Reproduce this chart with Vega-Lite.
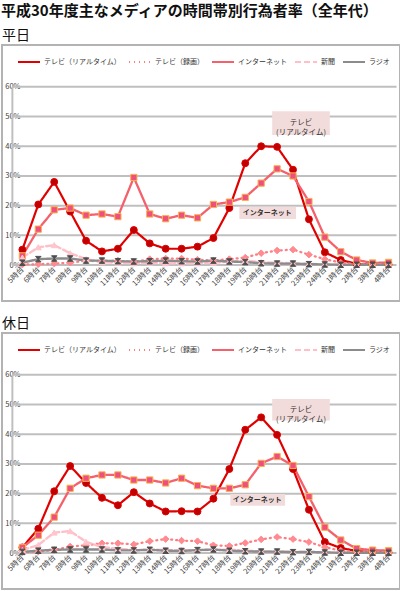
{
  "$schema": "https://vega.github.io/schema/vega-lite/v6.json",
  "description": "平成30年度 主なメディアの時間帯別行為者率（平日・休日）",
  "background": "white",
  "padding": {"left": 1, "top": 4, "right": 0, "bottom": 0},
  "title": {
    "text": "平成30年度主なメディアの時間帯別行為者率（全年代）",
    "anchor": "start",
    "fontSize": 15,
    "fontWeight": "bold",
    "color": "#111111",
    "offset": 9
  },
  "datasets": {
    "rates": [
      {"panel": "平日", "media": "テレビ（リアルタイム）", "slot": "5時台", "rate": 5.2},
      {"panel": "平日", "media": "テレビ（リアルタイム）", "slot": "6時台", "rate": 20.4},
      {"panel": "平日", "media": "テレビ（リアルタイム）", "slot": "7時台", "rate": 28.0},
      {"panel": "平日", "media": "テレビ（リアルタイム）", "slot": "8時台", "rate": 18.0},
      {"panel": "平日", "media": "テレビ（リアルタイム）", "slot": "9時台", "rate": 8.2},
      {"panel": "平日", "media": "テレビ（リアルタイム）", "slot": "10時台", "rate": 4.6},
      {"panel": "平日", "media": "テレビ（リアルタイム）", "slot": "11時台", "rate": 5.5},
      {"panel": "平日", "media": "テレビ（リアルタイム）", "slot": "12時台", "rate": 11.8},
      {"panel": "平日", "media": "テレビ（リアルタイム）", "slot": "13時台", "rate": 7.3},
      {"panel": "平日", "media": "テレビ（リアルタイム）", "slot": "14時台", "rate": 5.5},
      {"panel": "平日", "media": "テレビ（リアルタイム）", "slot": "15時台", "rate": 5.5},
      {"panel": "平日", "media": "テレビ（リアルタイム）", "slot": "16時台", "rate": 6.2},
      {"panel": "平日", "media": "テレビ（リアルタイム）", "slot": "17時台", "rate": 9.1},
      {"panel": "平日", "media": "テレビ（リアルタイム）", "slot": "18時台", "rate": 19.2},
      {"panel": "平日", "media": "テレビ（リアルタイム）", "slot": "19時台", "rate": 34.3},
      {"panel": "平日", "media": "テレビ（リアルタイム）", "slot": "20時台", "rate": 40.0},
      {"panel": "平日", "media": "テレビ（リアルタイム）", "slot": "21時台", "rate": 39.8},
      {"panel": "平日", "media": "テレビ（リアルタイム）", "slot": "22時台", "rate": 32.1},
      {"panel": "平日", "media": "テレビ（リアルタイム）", "slot": "23時台", "rate": 15.4},
      {"panel": "平日", "media": "テレビ（リアルタイム）", "slot": "24時台", "rate": 4.3},
      {"panel": "平日", "media": "テレビ（リアルタイム）", "slot": "1時台", "rate": 1.7},
      {"panel": "平日", "media": "テレビ（リアルタイム）", "slot": "2時台", "rate": 0.4},
      {"panel": "平日", "media": "テレビ（リアルタイム）", "slot": "3時台", "rate": 0.2},
      {"panel": "平日", "media": "テレビ（リアルタイム）", "slot": "4時台", "rate": 0.2},
      {"panel": "平日", "media": "テレビ（録画）", "slot": "5時台", "rate": 0.2},
      {"panel": "平日", "media": "テレビ（録画）", "slot": "6時台", "rate": 0.3},
      {"panel": "平日", "media": "テレビ（録画）", "slot": "7時台", "rate": 0.5},
      {"panel": "平日", "media": "テレビ（録画）", "slot": "8時台", "rate": 0.8},
      {"panel": "平日", "media": "テレビ（録画）", "slot": "9時台", "rate": 1.5},
      {"panel": "平日", "media": "テレビ（録画）", "slot": "10時台", "rate": 1.2},
      {"panel": "平日", "media": "テレビ（録画）", "slot": "11時台", "rate": 1.5},
      {"panel": "平日", "media": "テレビ（録画）", "slot": "12時台", "rate": 1.0},
      {"panel": "平日", "media": "テレビ（録画）", "slot": "13時台", "rate": 2.0},
      {"panel": "平日", "media": "テレビ（録画）", "slot": "14時台", "rate": 2.2},
      {"panel": "平日", "media": "テレビ（録画）", "slot": "15時台", "rate": 2.2},
      {"panel": "平日", "media": "テレビ（録画）", "slot": "16時台", "rate": 1.8},
      {"panel": "平日", "media": "テレビ（録画）", "slot": "17時台", "rate": 1.5},
      {"panel": "平日", "media": "テレビ（録画）", "slot": "18時台", "rate": 2.0},
      {"panel": "平日", "media": "テレビ（録画）", "slot": "19時台", "rate": 2.5},
      {"panel": "平日", "media": "テレビ（録画）", "slot": "20時台", "rate": 4.0},
      {"panel": "平日", "media": "テレビ（録画）", "slot": "21時台", "rate": 4.9},
      {"panel": "平日", "media": "テレビ（録画）", "slot": "22時台", "rate": 5.2},
      {"panel": "平日", "media": "テレビ（録画）", "slot": "23時台", "rate": 3.5},
      {"panel": "平日", "media": "テレビ（録画）", "slot": "24時台", "rate": 2.0},
      {"panel": "平日", "media": "テレビ（録画）", "slot": "1時台", "rate": 0.8},
      {"panel": "平日", "media": "テレビ（録画）", "slot": "2時台", "rate": 0.3},
      {"panel": "平日", "media": "テレビ（録画）", "slot": "3時台", "rate": 0.2},
      {"panel": "平日", "media": "テレビ（録画）", "slot": "4時台", "rate": 0.2},
      {"panel": "平日", "media": "インターネット", "slot": "5時台", "rate": 3.1},
      {"panel": "平日", "media": "インターネット", "slot": "6時台", "rate": 12.1},
      {"panel": "平日", "media": "インターネット", "slot": "7時台", "rate": 18.6},
      {"panel": "平日", "media": "インターネット", "slot": "8時台", "rate": 19.2},
      {"panel": "平日", "media": "インターネット", "slot": "9時台", "rate": 16.8},
      {"panel": "平日", "media": "インターネット", "slot": "10時台", "rate": 17.2},
      {"panel": "平日", "media": "インターネット", "slot": "11時台", "rate": 16.3},
      {"panel": "平日", "media": "インターネット", "slot": "12時台", "rate": 29.5},
      {"panel": "平日", "media": "インターネット", "slot": "13時台", "rate": 17.2},
      {"panel": "平日", "media": "インターネット", "slot": "14時台", "rate": 15.6},
      {"panel": "平日", "media": "インターネット", "slot": "15時台", "rate": 16.8},
      {"panel": "平日", "media": "インターネット", "slot": "16時台", "rate": 15.9},
      {"panel": "平日", "media": "インターネット", "slot": "17時台", "rate": 20.4},
      {"panel": "平日", "media": "インターネット", "slot": "18時台", "rate": 21.2},
      {"panel": "平日", "media": "インターネット", "slot": "19時台", "rate": 22.8},
      {"panel": "平日", "media": "インターネット", "slot": "20時台", "rate": 27.6},
      {"panel": "平日", "media": "インターネット", "slot": "21時台", "rate": 32.4},
      {"panel": "平日", "media": "インターネット", "slot": "22時台", "rate": 30.0},
      {"panel": "平日", "media": "インターネット", "slot": "23時台", "rate": 21.4},
      {"panel": "平日", "media": "インターネット", "slot": "24時台", "rate": 9.4},
      {"panel": "平日", "media": "インターネット", "slot": "1時台", "rate": 4.5},
      {"panel": "平日", "media": "インターネット", "slot": "2時台", "rate": 1.7},
      {"panel": "平日", "media": "インターネット", "slot": "3時台", "rate": 0.7},
      {"panel": "平日", "media": "インターネット", "slot": "4時台", "rate": 0.9},
      {"panel": "平日", "media": "新聞", "slot": "5時台", "rate": 2.5},
      {"panel": "平日", "media": "新聞", "slot": "6時台", "rate": 6.0},
      {"panel": "平日", "media": "新聞", "slot": "7時台", "rate": 6.7},
      {"panel": "平日", "media": "新聞", "slot": "8時台", "rate": 4.0},
      {"panel": "平日", "media": "新聞", "slot": "9時台", "rate": 2.0},
      {"panel": "平日", "media": "新聞", "slot": "10時台", "rate": 1.0},
      {"panel": "平日", "media": "新聞", "slot": "11時台", "rate": 0.8},
      {"panel": "平日", "media": "新聞", "slot": "12時台", "rate": 0.6},
      {"panel": "平日", "media": "新聞", "slot": "13時台", "rate": 0.8},
      {"panel": "平日", "media": "新聞", "slot": "14時台", "rate": 0.6},
      {"panel": "平日", "media": "新聞", "slot": "15時台", "rate": 0.6},
      {"panel": "平日", "media": "新聞", "slot": "16時台", "rate": 0.6},
      {"panel": "平日", "media": "新聞", "slot": "17時台", "rate": 0.8},
      {"panel": "平日", "media": "新聞", "slot": "18時台", "rate": 1.2},
      {"panel": "平日", "media": "新聞", "slot": "19時台", "rate": 1.5},
      {"panel": "平日", "media": "新聞", "slot": "20時台", "rate": 1.0},
      {"panel": "平日", "media": "新聞", "slot": "21時台", "rate": 0.8},
      {"panel": "平日", "media": "新聞", "slot": "22時台", "rate": 0.6},
      {"panel": "平日", "media": "新聞", "slot": "23時台", "rate": 0.4},
      {"panel": "平日", "media": "新聞", "slot": "24時台", "rate": 0.2},
      {"panel": "平日", "media": "新聞", "slot": "1時台", "rate": 0.1},
      {"panel": "平日", "media": "新聞", "slot": "2時台", "rate": 0.1},
      {"panel": "平日", "media": "新聞", "slot": "3時台", "rate": 0.1},
      {"panel": "平日", "media": "新聞", "slot": "4時台", "rate": 0.2},
      {"panel": "平日", "media": "ラジオ", "slot": "5時台", "rate": 0.8},
      {"panel": "平日", "media": "ラジオ", "slot": "6時台", "rate": 2.0},
      {"panel": "平日", "media": "ラジオ", "slot": "7時台", "rate": 2.2},
      {"panel": "平日", "media": "ラジオ", "slot": "8時台", "rate": 2.2},
      {"panel": "平日", "media": "ラジオ", "slot": "9時台", "rate": 1.5},
      {"panel": "平日", "media": "ラジオ", "slot": "10時台", "rate": 1.5},
      {"panel": "平日", "media": "ラジオ", "slot": "11時台", "rate": 1.3},
      {"panel": "平日", "media": "ラジオ", "slot": "12時台", "rate": 1.2},
      {"panel": "平日", "media": "ラジオ", "slot": "13時台", "rate": 1.3},
      {"panel": "平日", "media": "ラジオ", "slot": "14時台", "rate": 1.5},
      {"panel": "平日", "media": "ラジオ", "slot": "15時台", "rate": 1.3},
      {"panel": "平日", "media": "ラジオ", "slot": "16時台", "rate": 1.2},
      {"panel": "平日", "media": "ラジオ", "slot": "17時台", "rate": 1.5},
      {"panel": "平日", "media": "ラジオ", "slot": "18時台", "rate": 1.2},
      {"panel": "平日", "media": "ラジオ", "slot": "19時台", "rate": 1.0},
      {"panel": "平日", "media": "ラジオ", "slot": "20時台", "rate": 0.6},
      {"panel": "平日", "media": "ラジオ", "slot": "21時台", "rate": 0.5},
      {"panel": "平日", "media": "ラジオ", "slot": "22時台", "rate": 0.5},
      {"panel": "平日", "media": "ラジオ", "slot": "23時台", "rate": 0.3},
      {"panel": "平日", "media": "ラジオ", "slot": "24時台", "rate": 0.2},
      {"panel": "平日", "media": "ラジオ", "slot": "1時台", "rate": 0.1},
      {"panel": "平日", "media": "ラジオ", "slot": "2時台", "rate": 0.1},
      {"panel": "平日", "media": "ラジオ", "slot": "3時台", "rate": 0.1},
      {"panel": "平日", "media": "ラジオ", "slot": "4時台", "rate": 0.1},
      {"panel": "休日", "media": "テレビ（リアルタイム）", "slot": "5時台", "rate": 1.9},
      {"panel": "休日", "media": "テレビ（リアルタイム）", "slot": "6時台", "rate": 8.2},
      {"panel": "休日", "media": "テレビ（リアルタイム）", "slot": "7時台", "rate": 20.8},
      {"panel": "休日", "media": "テレビ（リアルタイム）", "slot": "8時台", "rate": 29.3},
      {"panel": "休日", "media": "テレビ（リアルタイム）", "slot": "9時台", "rate": 23.6},
      {"panel": "休日", "media": "テレビ（リアルタイム）", "slot": "10時台", "rate": 18.6},
      {"panel": "休日", "media": "テレビ（リアルタイム）", "slot": "11時台", "rate": 16.1},
      {"panel": "休日", "media": "テレビ（リアルタイム）", "slot": "12時台", "rate": 20.5},
      {"panel": "休日", "media": "テレビ（リアルタイム）", "slot": "13時台", "rate": 16.7},
      {"panel": "休日", "media": "テレビ（リアルタイム）", "slot": "14時台", "rate": 14.0},
      {"panel": "休日", "media": "テレビ（リアルタイム）", "slot": "15時台", "rate": 14.1},
      {"panel": "休日", "media": "テレビ（リアルタイム）", "slot": "16時台", "rate": 14.0},
      {"panel": "休日", "media": "テレビ（リアルタイム）", "slot": "17時台", "rate": 18.3},
      {"panel": "休日", "media": "テレビ（リアルタイム）", "slot": "18時台", "rate": 28.3},
      {"panel": "休日", "media": "テレビ（リアルタイム）", "slot": "19時台", "rate": 41.5},
      {"panel": "休日", "media": "テレビ（リアルタイム）", "slot": "20時台", "rate": 45.7},
      {"panel": "休日", "media": "テレビ（リアルタイム）", "slot": "21時台", "rate": 39.8},
      {"panel": "休日", "media": "テレビ（リアルタイム）", "slot": "22時台", "rate": 28.3},
      {"panel": "休日", "media": "テレビ（リアルタイム）", "slot": "23時台", "rate": 14.6},
      {"panel": "休日", "media": "テレビ（リアルタイム）", "slot": "24時台", "rate": 3.7},
      {"panel": "休日", "media": "テレビ（リアルタイム）", "slot": "1時台", "rate": 1.7},
      {"panel": "休日", "media": "テレビ（リアルタイム）", "slot": "2時台", "rate": 0.7},
      {"panel": "休日", "media": "テレビ（リアルタイム）", "slot": "3時台", "rate": 0.3},
      {"panel": "休日", "media": "テレビ（リアルタイム）", "slot": "4時台", "rate": 0.2},
      {"panel": "休日", "media": "テレビ（録画）", "slot": "5時台", "rate": 0.3},
      {"panel": "休日", "media": "テレビ（録画）", "slot": "6時台", "rate": 0.5},
      {"panel": "休日", "media": "テレビ（録画）", "slot": "7時台", "rate": 1.0},
      {"panel": "休日", "media": "テレビ（録画）", "slot": "8時台", "rate": 2.2},
      {"panel": "休日", "media": "テレビ（録画）", "slot": "9時台", "rate": 2.6},
      {"panel": "休日", "media": "テレビ（録画）", "slot": "10時台", "rate": 3.3},
      {"panel": "休日", "media": "テレビ（録画）", "slot": "11時台", "rate": 3.3},
      {"panel": "休日", "media": "テレビ（録画）", "slot": "12時台", "rate": 2.9},
      {"panel": "休日", "media": "テレビ（録画）", "slot": "13時台", "rate": 4.0},
      {"panel": "休日", "media": "テレビ（録画）", "slot": "14時台", "rate": 4.7},
      {"panel": "休日", "media": "テレビ（録画）", "slot": "15時台", "rate": 4.2},
      {"panel": "休日", "media": "テレビ（録画）", "slot": "16時台", "rate": 4.0},
      {"panel": "休日", "media": "テレビ（録画）", "slot": "17時台", "rate": 2.6},
      {"panel": "休日", "media": "テレビ（録画）", "slot": "18時台", "rate": 2.4},
      {"panel": "休日", "media": "テレビ（録画）", "slot": "19時台", "rate": 3.4},
      {"panel": "休日", "media": "テレビ（録画）", "slot": "20時台", "rate": 4.6},
      {"panel": "休日", "media": "テレビ（録画）", "slot": "21時台", "rate": 5.4},
      {"panel": "休日", "media": "テレビ（録画）", "slot": "22時台", "rate": 4.7},
      {"panel": "休日", "media": "テレビ（録画）", "slot": "23時台", "rate": 3.7},
      {"panel": "休日", "media": "テレビ（録画）", "slot": "24時台", "rate": 2.0},
      {"panel": "休日", "media": "テレビ（録画）", "slot": "1時台", "rate": 0.8},
      {"panel": "休日", "media": "テレビ（録画）", "slot": "2時台", "rate": 0.3},
      {"panel": "休日", "media": "テレビ（録画）", "slot": "3時台", "rate": 0.2},
      {"panel": "休日", "media": "テレビ（録画）", "slot": "4時台", "rate": 0.2},
      {"panel": "休日", "media": "インターネット", "slot": "5時台", "rate": 1.9},
      {"panel": "休日", "media": "インターネット", "slot": "6時台", "rate": 6.0},
      {"panel": "休日", "media": "インターネット", "slot": "7時台", "rate": 12.1},
      {"panel": "休日", "media": "インターネット", "slot": "8時台", "rate": 21.8},
      {"panel": "休日", "media": "インターネット", "slot": "9時台", "rate": 25.2},
      {"panel": "休日", "media": "インターネット", "slot": "10時台", "rate": 26.3},
      {"panel": "休日", "media": "インターネット", "slot": "11時台", "rate": 26.3},
      {"panel": "休日", "media": "インターネット", "slot": "12時台", "rate": 24.6},
      {"panel": "休日", "media": "インターネット", "slot": "13時台", "rate": 24.6},
      {"panel": "休日", "media": "インターネット", "slot": "14時台", "rate": 23.6},
      {"panel": "休日", "media": "インターネット", "slot": "15時台", "rate": 25.2},
      {"panel": "休日", "media": "インターネット", "slot": "16時台", "rate": 22.7},
      {"panel": "休日", "media": "インターネット", "slot": "17時台", "rate": 21.8},
      {"panel": "休日", "media": "インターネット", "slot": "18時台", "rate": 21.8},
      {"panel": "休日", "media": "インターネット", "slot": "19時台", "rate": 23.0},
      {"panel": "休日", "media": "インターネット", "slot": "20時台", "rate": 30.2},
      {"panel": "休日", "media": "インターネット", "slot": "21時台", "rate": 32.5},
      {"panel": "休日", "media": "インターネット", "slot": "22時台", "rate": 29.5},
      {"panel": "休日", "media": "インターネット", "slot": "23時台", "rate": 19.0},
      {"panel": "休日", "media": "インターネット", "slot": "24時台", "rate": 8.7},
      {"panel": "休日", "media": "インターネット", "slot": "1時台", "rate": 4.4},
      {"panel": "休日", "media": "インターネット", "slot": "2時台", "rate": 1.5},
      {"panel": "休日", "media": "インターネット", "slot": "3時台", "rate": 1.0},
      {"panel": "休日", "media": "インターネット", "slot": "4時台", "rate": 0.8},
      {"panel": "休日", "media": "新聞", "slot": "5時台", "rate": 1.0},
      {"panel": "休日", "media": "新聞", "slot": "6時台", "rate": 2.7},
      {"panel": "休日", "media": "新聞", "slot": "7時台", "rate": 6.9},
      {"panel": "休日", "media": "新聞", "slot": "8時台", "rate": 7.4},
      {"panel": "休日", "media": "新聞", "slot": "9時台", "rate": 3.8},
      {"panel": "休日", "media": "新聞", "slot": "10時台", "rate": 2.0},
      {"panel": "休日", "media": "新聞", "slot": "11時台", "rate": 1.5},
      {"panel": "休日", "media": "新聞", "slot": "12時台", "rate": 1.0},
      {"panel": "休日", "media": "新聞", "slot": "13時台", "rate": 1.2},
      {"panel": "休日", "media": "新聞", "slot": "14時台", "rate": 1.0},
      {"panel": "休日", "media": "新聞", "slot": "15時台", "rate": 1.0},
      {"panel": "休日", "media": "新聞", "slot": "16時台", "rate": 1.0},
      {"panel": "休日", "media": "新聞", "slot": "17時台", "rate": 1.0},
      {"panel": "休日", "media": "新聞", "slot": "18時台", "rate": 1.2},
      {"panel": "休日", "media": "新聞", "slot": "19時台", "rate": 0.8},
      {"panel": "休日", "media": "新聞", "slot": "20時台", "rate": 0.6},
      {"panel": "休日", "media": "新聞", "slot": "21時台", "rate": 0.5},
      {"panel": "休日", "media": "新聞", "slot": "22時台", "rate": 0.4},
      {"panel": "休日", "media": "新聞", "slot": "23時台", "rate": 0.3},
      {"panel": "休日", "media": "新聞", "slot": "24時台", "rate": 0.2},
      {"panel": "休日", "media": "新聞", "slot": "1時台", "rate": 0.1},
      {"panel": "休日", "media": "新聞", "slot": "2時台", "rate": 0.1},
      {"panel": "休日", "media": "新聞", "slot": "3時台", "rate": 0.1},
      {"panel": "休日", "media": "新聞", "slot": "4時台", "rate": 0.1},
      {"panel": "休日", "media": "ラジオ", "slot": "5時台", "rate": 0.4},
      {"panel": "休日", "media": "ラジオ", "slot": "6時台", "rate": 0.8},
      {"panel": "休日", "media": "ラジオ", "slot": "7時台", "rate": 1.1},
      {"panel": "休日", "media": "ラジオ", "slot": "8時台", "rate": 1.2},
      {"panel": "休日", "media": "ラジオ", "slot": "9時台", "rate": 1.2},
      {"panel": "休日", "media": "ラジオ", "slot": "10時台", "rate": 1.2},
      {"panel": "休日", "media": "ラジオ", "slot": "11時台", "rate": 0.9},
      {"panel": "休日", "media": "ラジオ", "slot": "12時台", "rate": 0.9},
      {"panel": "休日", "media": "ラジオ", "slot": "13時台", "rate": 1.1},
      {"panel": "休日", "media": "ラジオ", "slot": "14時台", "rate": 0.8},
      {"panel": "休日", "media": "ラジオ", "slot": "15時台", "rate": 0.7},
      {"panel": "休日", "media": "ラジオ", "slot": "16時台", "rate": 1.0},
      {"panel": "休日", "media": "ラジオ", "slot": "17時台", "rate": 1.2},
      {"panel": "休日", "media": "ラジオ", "slot": "18時台", "rate": 0.8},
      {"panel": "休日", "media": "ラジオ", "slot": "19時台", "rate": 0.6},
      {"panel": "休日", "media": "ラジオ", "slot": "20時台", "rate": 0.5},
      {"panel": "休日", "media": "ラジオ", "slot": "21時台", "rate": 0.5},
      {"panel": "休日", "media": "ラジオ", "slot": "22時台", "rate": 0.3},
      {"panel": "休日", "media": "ラジオ", "slot": "23時台", "rate": 0.4},
      {"panel": "休日", "media": "ラジオ", "slot": "24時台", "rate": 0.2},
      {"panel": "休日", "media": "ラジオ", "slot": "1時台", "rate": 0.1},
      {"panel": "休日", "media": "ラジオ", "slot": "2時台", "rate": 0.1},
      {"panel": "休日", "media": "ラジオ", "slot": "3時台", "rate": 0.1},
      {"panel": "休日", "media": "ラジオ", "slot": "4時台", "rate": 0.1}
    ],
    "grid": [
      {"g": 0}, {"g": 10}, {"g": 20}, {"g": 30}, {"g": 40}, {"g": 50}, {"g": 60}
    ]
  },
  "spacing": 14,
  "vconcat": [
    {
      "title": {"text": "平日", "anchor": "start", "fontSize": 14, "fontWeight": "normal", "offset": 2},
      "width": 398,
      "height": 256,
      "layer": [
        {
          "data": {"name": "grid"},
          "mark": {"type": "rule", "color": "#BFBFBF", "strokeWidth": 2, "xOffset": -10, "x2Offset": 8},
          "encoding": {
            "x": {"datum": "5時台", "type": "ordinal", "title": null},
            "x2": {"datum": "4時台"},
            "y": {"field": "g", "type": "quantitative", "title": null}
          }
        },
        {
          "data": {"name": "grid"},
          "transform": [{"filter": "datum.g === 0"}],
          "mark": {"type": "rule", "color": "#BFBFBF", "strokeWidth": 2, "xOffset": -10},
          "encoding": {
            "x": {"datum": "5時台", "type": "ordinal", "title": null},
            "y": {"field": "g", "type": "quantitative", "title": null},
            "y2": {"datum": 60}
          }
        },
        {
          "data": {"name": "rates"},
          "transform": [{"filter": "datum.panel === '平日'"}],
          "mark": {"type": "line", "strokeCap": "round", "strokeJoin": "round"},
          "encoding": {
            "x": {
              "field": "slot", "type": "ordinal", "title": null,
              "scale": {
                "type": "point", "padding": 1.54, "align": 0.64,
                "domain": ["5時台", "6時台", "7時台", "8時台", "9時台", "10時台", "11時台", "12時台", "13時台", "14時台", "15時台", "16時台", "17時台", "18時台", "19時台", "20時台", "21時台", "22時台", "23時台", "24時台", "1時台", "2時台", "3時台", "4時台"]
              },
              "axis": {"offset": -36, "labelAngle": -45, "labelAlign": "right", "labelBaseline": "middle", "labelPadding": 3}
            },
            "y": {
              "field": "rate", "type": "quantitative", "title": null,
              "scale": {"domain": [-12.1, 74.1], "nice": false, "zero": false},
              "axis": {"offset": -20, "values": [0, 10, 20, 30, 40, 50, 60], "labelExpr": "datum.value + '%'", "labelPadding": 2}
            },
            "color": {
              "field": "media", "type": "nominal", "title": null,
              "scale": {
                "domain": ["テレビ（リアルタイム）", "テレビ（録画）", "インターネット", "新聞", "ラジオ"],
                "range": ["#E00000", "#FF7C80", "#F4606C", "#FFBFC8", "#8C8C8C"]
              },
              "legend": {"orient": "none", "legendX": 15, "legendY": 5}
            },
            "strokeDash": {
              "field": "media", "type": "nominal", "title": null,
              "scale": {
                "domain": ["テレビ（リアルタイム）", "テレビ（録画）", "インターネット", "新聞", "ラジオ"],
                "range": [[1, 0], [1, 4], [1, 0], [6, 3], [1, 0]]
              },
              "legend": {"orient": "none", "legendX": 15, "legendY": 5}
            },
            "strokeWidth": {
              "field": "media", "type": "nominal", "legend": null,
              "scale": {
                "domain": ["テレビ（リアルタイム）", "テレビ（録画）", "インターネット", "新聞", "ラジオ"],
                "range": [2.2, 2.4, 1.6, 2, 1.5]
              }
            }
          }
        },
        {
          "data": {"name": "rates"},
          "transform": [{"filter": "datum.panel === '平日'"}],
          "mark": {"type": "point", "filled": true, "opacity": 1, "strokeWidth": 1},
          "encoding": {
            "x": {"field": "slot", "type": "ordinal", "title": null},
            "y": {"field": "rate", "type": "quantitative", "title": null},
            "shape": {
              "field": "media", "type": "nominal", "legend": null,
              "scale": {
                "domain": ["テレビ（リアルタイム）", "テレビ（録画）", "インターネット", "新聞", "ラジオ"],
                "range": ["circle", "diamond", "square", "triangle-up", "M-1,-1L1,-1L-1,1L1,1Z"]
              }
            },
            "fill": {
              "field": "media", "type": "nominal", "legend": null,
              "scale": {
                "domain": ["テレビ（リアルタイム）", "テレビ（録画）", "インターネット", "新聞", "ラジオ"],
                "range": ["#C00000", "#FF8A8F", "#EE4F7F", "#FFC4CC", "#4D4D4D"]
              }
            },
            "stroke": {
              "field": "media", "type": "nominal", "legend": null,
              "scale": {
                "domain": ["テレビ（リアルタイム）", "テレビ（録画）", "インターネット", "新聞", "ラジオ"],
                "range": ["#E00000", "#FF8A8F", "#F9B24A", "#FFC4CC", "#4D4D4D"]
              }
            },
            "size": {
              "field": "media", "type": "nominal", "legend": null,
              "scale": {
                "domain": ["テレビ（リアルタイム）", "テレビ（録画）", "インターネット", "新聞", "ラジオ"],
                "range": [48, 30, 40, 30, 28]
              }
            }
          }
        },
        {
          "data": {"values": [{"xa": "20時台", "xb": "24時台", "ya": 51.8, "yb": 43.8}]},
          "mark": {"type": "rect", "fill": "#F2DCDB", "xOffset": 11, "x2Offset": 5},
          "encoding": {
            "x": {"field": "xa", "type": "ordinal", "title": null},
            "x2": {"field": "xb"},
            "y": {"field": "ya", "type": "quantitative", "title": null},
            "y2": {"field": "yb"}
          }
        },
        {
          "data": {"values": [{"xa": "18時台", "xb": "22時台", "ya": 19.6, "yb": 15.5}]},
          "mark": {"type": "rect", "fill": "#F2DCDB", "xOffset": 10, "x2Offset": 3},
          "encoding": {
            "x": {"field": "xa", "type": "ordinal", "title": null},
            "x2": {"field": "xb"},
            "y": {"field": "ya", "type": "quantitative", "title": null},
            "y2": {"field": "yb"}
          }
        },
        {
          "data": {"values": [{"label": "テレビ\n(リアルタイム)", "xt": "22時台", "yt": 47.8}]},
          "mark": {"type": "text", "lineBreak": "\n", "lineHeight": 10, "fontSize": 7.5, "color": "#333333", "dx": 8, "baseline": "middle"},
          "encoding": {
            "x": {"field": "xt", "type": "ordinal", "title": null},
            "y": {"field": "yt", "type": "quantitative", "title": null},
            "text": {"field": "label"}
          }
        },
        {
          "data": {"values": [{"label": "インターネット", "xt": "20時台", "yt": 17.6}]},
          "mark": {"type": "text", "fontSize": 7, "fontWeight": "bold", "color": "#333333", "dx": 6, "baseline": "middle"},
          "encoding": {
            "x": {"field": "xt", "type": "ordinal", "title": null},
            "y": {"field": "yt", "type": "quantitative", "title": null},
            "text": {"field": "label"}
          }
        }
      ]
    },
    {
      "title": {"text": "休日", "anchor": "start", "fontSize": 14, "fontWeight": "normal", "offset": 2},
      "width": 398,
      "height": 256,
      "layer": [
        {
          "data": {"name": "grid"},
          "mark": {"type": "rule", "color": "#BFBFBF", "strokeWidth": 2, "xOffset": -10, "x2Offset": 8},
          "encoding": {
            "x": {"datum": "5時台", "type": "ordinal", "title": null},
            "x2": {"datum": "4時台"},
            "y": {"field": "g", "type": "quantitative", "title": null}
          }
        },
        {
          "data": {"name": "grid"},
          "transform": [{"filter": "datum.g === 0"}],
          "mark": {"type": "rule", "color": "#BFBFBF", "strokeWidth": 2, "xOffset": -10},
          "encoding": {
            "x": {"datum": "5時台", "type": "ordinal", "title": null},
            "y": {"field": "g", "type": "quantitative", "title": null},
            "y2": {"datum": 60}
          }
        },
        {
          "data": {"name": "rates"},
          "transform": [{"filter": "datum.panel === '休日'"}],
          "mark": {"type": "line", "strokeCap": "round", "strokeJoin": "round"},
          "encoding": {
            "x": {
              "field": "slot", "type": "ordinal", "title": null,
              "scale": {
                "type": "point", "padding": 1.54, "align": 0.64,
                "domain": ["5時台", "6時台", "7時台", "8時台", "9時台", "10時台", "11時台", "12時台", "13時台", "14時台", "15時台", "16時台", "17時台", "18時台", "19時台", "20時台", "21時台", "22時台", "23時台", "24時台", "1時台", "2時台", "3時台", "4時台"]
              },
              "axis": {"offset": -36, "labelAngle": -45, "labelAlign": "right", "labelBaseline": "middle", "labelPadding": 3}
            },
            "y": {
              "field": "rate", "type": "quantitative", "title": null,
              "scale": {"domain": [-12.1, 74.1], "nice": false, "zero": false},
              "axis": {"offset": -20, "values": [0, 10, 20, 30, 40, 50, 60], "labelExpr": "datum.value + '%'", "labelPadding": 2}
            },
            "color": {
              "field": "media", "type": "nominal", "title": null,
              "scale": {
                "domain": ["テレビ（リアルタイム）", "テレビ（録画）", "インターネット", "新聞", "ラジオ"],
                "range": ["#E00000", "#FF7C80", "#F4606C", "#FFBFC8", "#8C8C8C"]
              },
              "legend": {"orient": "none", "legendX": 15, "legendY": 5}
            },
            "strokeDash": {
              "field": "media", "type": "nominal", "title": null,
              "scale": {
                "domain": ["テレビ（リアルタイム）", "テレビ（録画）", "インターネット", "新聞", "ラジオ"],
                "range": [[1, 0], [1, 4], [1, 0], [6, 3], [1, 0]]
              },
              "legend": {"orient": "none", "legendX": 15, "legendY": 5}
            },
            "strokeWidth": {
              "field": "media", "type": "nominal", "legend": null,
              "scale": {
                "domain": ["テレビ（リアルタイム）", "テレビ（録画）", "インターネット", "新聞", "ラジオ"],
                "range": [2.2, 2.4, 1.6, 2, 1.5]
              }
            }
          }
        },
        {
          "data": {"name": "rates"},
          "transform": [{"filter": "datum.panel === '休日'"}],
          "mark": {"type": "point", "filled": true, "opacity": 1, "strokeWidth": 1},
          "encoding": {
            "x": {"field": "slot", "type": "ordinal", "title": null},
            "y": {"field": "rate", "type": "quantitative", "title": null},
            "shape": {
              "field": "media", "type": "nominal", "legend": null,
              "scale": {
                "domain": ["テレビ（リアルタイム）", "テレビ（録画）", "インターネット", "新聞", "ラジオ"],
                "range": ["circle", "diamond", "square", "triangle-up", "M-1,-1L1,-1L-1,1L1,1Z"]
              }
            },
            "fill": {
              "field": "media", "type": "nominal", "legend": null,
              "scale": {
                "domain": ["テレビ（リアルタイム）", "テレビ（録画）", "インターネット", "新聞", "ラジオ"],
                "range": ["#C00000", "#FF8A8F", "#EE4F7F", "#FFC4CC", "#4D4D4D"]
              }
            },
            "stroke": {
              "field": "media", "type": "nominal", "legend": null,
              "scale": {
                "domain": ["テレビ（リアルタイム）", "テレビ（録画）", "インターネット", "新聞", "ラジオ"],
                "range": ["#E00000", "#FF8A8F", "#F9B24A", "#FFC4CC", "#4D4D4D"]
              }
            },
            "size": {
              "field": "media", "type": "nominal", "legend": null,
              "scale": {
                "domain": ["テレビ（リアルタイム）", "テレビ（録画）", "インターネット", "新聞", "ラジオ"],
                "range": [48, 30, 40, 30, 28]
              }
            }
          }
        },
        {
          "data": {"values": [{"xa": "20時台", "xb": "24時台", "ya": 51.9, "yb": 44.6}]},
          "mark": {"type": "rect", "fill": "#F2DCDB", "xOffset": 11, "x2Offset": 5},
          "encoding": {
            "x": {"field": "xa", "type": "ordinal", "title": null},
            "x2": {"field": "xb"},
            "y": {"field": "ya", "type": "quantitative", "title": null},
            "y2": {"field": "yb"}
          }
        },
        {
          "data": {"values": [{"xa": "18時台", "xb": "21時台", "ya": 19.9, "yb": 15.9}]},
          "mark": {"type": "rect", "fill": "#F2DCDB", "xOffset": 1, "x2Offset": 8},
          "encoding": {
            "x": {"field": "xa", "type": "ordinal", "title": null},
            "x2": {"field": "xb"},
            "y": {"field": "ya", "type": "quantitative", "title": null},
            "y2": {"field": "yb"}
          }
        },
        {
          "data": {"values": [{"label": "テレビ\n(リアルタイム)", "xt": "22時台", "yt": 48.3}]},
          "mark": {"type": "text", "lineBreak": "\n", "lineHeight": 10, "fontSize": 7.5, "color": "#333333", "dx": 8, "baseline": "middle"},
          "encoding": {
            "x": {"field": "xt", "type": "ordinal", "title": null},
            "y": {"field": "yt", "type": "quantitative", "title": null},
            "text": {"field": "label"}
          }
        },
        {
          "data": {"values": [{"label": "インターネット", "xt": "20時台", "yt": 17.9}]},
          "mark": {"type": "text", "fontSize": 7, "fontWeight": "bold", "color": "#333333", "dx": -4, "baseline": "middle"},
          "encoding": {
            "x": {"field": "xt", "type": "ordinal", "title": null},
            "y": {"field": "yt", "type": "quantitative", "title": null},
            "text": {"field": "label"}
          }
        }
      ]
    }
  ],
  "resolve": {"legend": {"color": "independent", "strokeDash": "independent"}},
  "config": {
    "font": "Noto Sans CJK JP",
    "view": {"stroke": "#B3B3B3", "strokeWidth": 2},
    "title": {"color": "#111111"},
    "axis": {
      "domain": false,
      "ticks": false,
      "grid": false,
      "labelFontSize": 7.5,
      "labelColor": "#404040",
      "labelOverlap": false,
      "labelBound": false
    },
    "legend": {
      "direction": "horizontal",
      "columns": 5,
      "padding": 0,
      "symbolType": "stroke",
      "symbolSize": 484,
      "symbolStrokeWidth": 2,
      "labelFontSize": 7,
      "labelColor": "#333333",
      "labelOffset": 3,
      "columnPadding": 4,
      "labelExpr": "replace(replace(datum.label, '（', ' ('), '）', ')')"
    }
  }
}
